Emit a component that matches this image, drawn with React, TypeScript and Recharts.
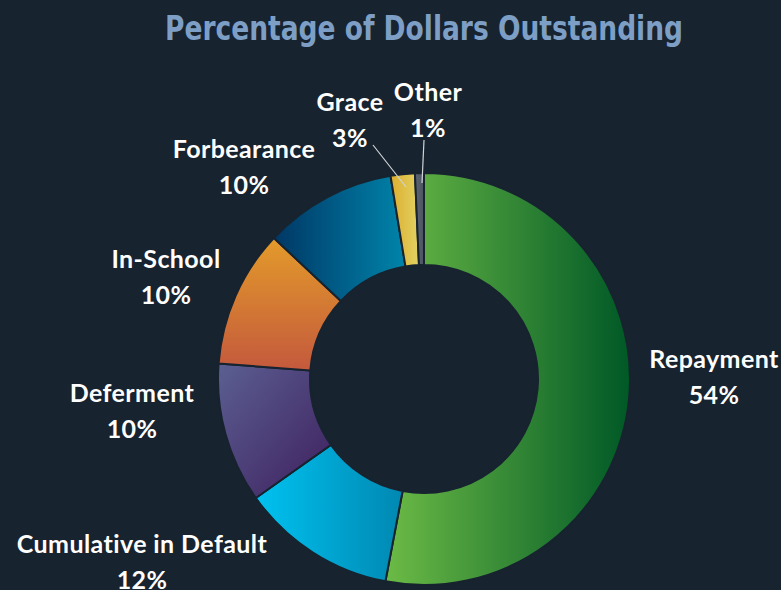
import { PieChart, Pie, Cell } from 'recharts';

document.body.style.margin = '0';
document.body.style.background = '#17232f';

// slice shares as drawn (degrees, in percent)
const names = ['Repayment', 'Cumulative in Default', 'Deferment', 'In-School', 'Forbearance', 'Grace', 'Other'];
const values = [53.0, 12.2, 11.0, 10.8, 10.4, 1.9, 0.7];
const pctLabels = ['54%', '12%', '10%', '10%', '10%', '3%', '1%'];

const data = names.map((name, i) => ({ name, value: values[i], pct: pctLabels[i] }));

const W = 781;
const H = 590;
const CX = 424;
const CY = 379;
const BG = '#17232f';

// gradient per slice: [id, x1, y1, x2, y2, from, to]
const grads: [string, number, number, number, number, string, string][] = [
  ['gRepay', 0, 0, 1, 0, '#6cbb46', '#005826'],
  ['gDefault', 0, 0, 1, 0, '#00c2f0', '#0088b2'],
  ['gDefer', 0, 0, 1, 1, '#5b5f92', '#3e1f5e'],
  ['gSchool', 0, 0, 0, 1, '#e39b2a', '#c4593d'],
  ['gForb', 0, 0, 1, 0, '#003765', '#0084aa'],
  ['gGrace', 0, 0, 1, 0, '#dcae2e', '#e2d264'],
  ['gOther', 0, 0, 1, 0, '#5d6572', '#4d5461'],
];

// label anchor (center, first baseline) relative to pie center, plus optional leader line
const labelLayout: { dx: number; dy: number; line?: [number, number, number, number] }[] = [
  { dx: 290, dy: -11 },
  { dx: -282, dy: 174 },
  { dx: -292, dy: 23 },
  { dx: -258, dy: -111 },
  { dx: -180, dy: -221 },
  { dx: -74, dy: -268, line: [-51, -234, -18, -192] },
  { dx: 4, dy: -278, line: [0, -239, -2, -196] },
];

const renderLabel = (props: any) => {
  const { cx, cy, index } = props;
  const l = labelLayout[index];
  const d = data[index];
  const x = cx + l.dx;
  const y = cy + l.dy;
  return (
    <g key={`lbl-${index}`}>
      {l.line && (
        <line
          x1={cx + l.line[0]} y1={cy + l.line[1]} x2={cx + l.line[2]} y2={cy + l.line[3]}
          stroke="#d0d4d8" strokeWidth={1.2}
        />
      )}
      <text
        x={x} y={y} textAnchor="middle" fill="#ffffff"
        fontFamily="Lato, sans-serif" fontWeight={700} fontSize={25} letterSpacing={0.4}
      >
        <tspan x={x} dy={0}>{d.name}</tspan>
        <tspan x={x} dy={36}>{d.pct}</tspan>
      </text>
    </g>
  );
};

export default function App() {
  return (
    <div style={{ position: 'relative', width: W, height: H, background: BG, overflow: 'hidden' }}>
      <svg width={W} height={60} style={{ position: 'absolute', left: 0, top: 0 }}>
        <text
          x={424} y={40} textAnchor="middle" fill="#7d9fc5"
          fontFamily="'DejaVu Sans Condensed', sans-serif"
          fontWeight={700} fontSize={34} textLength={518} lengthAdjust="spacingAndGlyphs"
        >
          Percentage of Dollars Outstanding
        </text>
      </svg>
      <PieChart
        width={W} height={H}
        margin={{ top: 0, right: 0, bottom: 0, left: 0 }}
        style={{ position: 'absolute', left: 0, top: 0 }}
      >
        <defs>
          {grads.map(([id, x1, y1, x2, y2, a, b]) => (
            <linearGradient key={id} id={id} x1={x1} y1={y1} x2={x2} y2={y2}>
              <stop offset="0%" stopColor={a} />
              <stop offset="100%" stopColor={b} />
            </linearGradient>
          ))}
        </defs>
        <Pie
          data={data}
          dataKey="value"
          nameKey="name"
          cx={CX}
          cy={CY}
          innerRadius={114}
          outerRadius={206}
          startAngle={90}
          endAngle={-270}
          label={renderLabel}
          labelLine={false}
          isAnimationActive={false}
        >
          {data.map((d, i) => (
            <Cell key={d.name} fill={`url(#${grads[i][0]})`} stroke={BG} strokeWidth={2} />
          ))}
        </Pie>
      </PieChart>
    </div>
  );
}
